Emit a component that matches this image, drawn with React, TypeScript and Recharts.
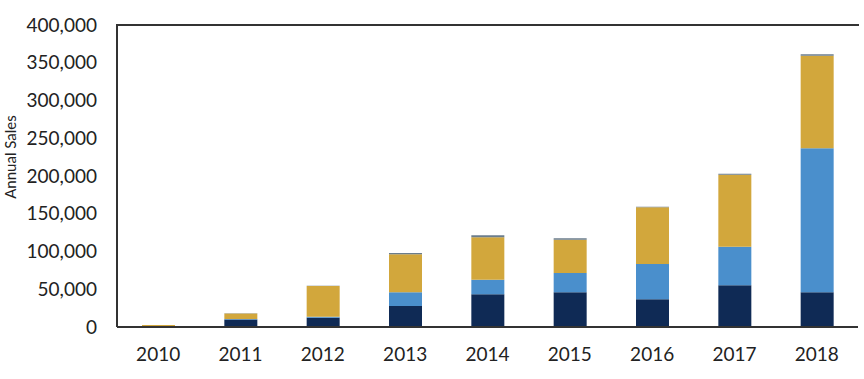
import React from "react";
import * as R from "recharts";
import { BarChart, Bar, XAxis, YAxis } from "recharts";

const years = ["2010", "2011", "2012", "2013", "2014", "2015", "2016", "2017", "2018"];
const navySales = [0, 10000, 12300, 27800, 43300, 46000, 36700, 55200, 46000];
const blueSales = [0, 500, 1300, 18200, 19400, 25500, 46700, 51200, 190700];
const goldSales = [2500, 7500, 40700, 50300, 56100, 44100, 75100, 95400, 122700];
const graySales = [300, 300, 500, 1700, 2600, 1800, 900, 1200, 1800];
const yTicks = [0, 50000, 100000, 150000, 200000, 250000, 300000, 350000, 400000];

const data = years.map((y, i) => ({
  year: y,
  navy: navySales[i],
  blue: blueSales[i],
  gold: goldSales[i],
  gray: graySales[i],
}));

const font = "Lato, 'Open Sans', sans-serif";
const fmt = (v: number) => v.toLocaleString("en-US");

const usePlotAreaHook: any = (R as any).usePlotArea;
const useOffsetHook: any = (R as any).useOffset;
const useWidthHook: any = (R as any).useChartWidth;

const TopFrame = () => {
  let x1: number | null = null;
  let x2: number | null = null;
  let y: number | null = null;
  if (usePlotAreaHook) {
    const pa = usePlotAreaHook();
    if (pa) {
      x1 = pa.x;
      x2 = pa.x + pa.width;
      y = pa.y;
    }
  } else if (useOffsetHook && useWidthHook) {
    const off = useOffsetHook();
    const w = useWidthHook();
    if (off && w) {
      x1 = off.left;
      x2 = w - off.right;
      y = off.top;
    }
  }
  if (x1 == null || x2 == null || y == null) return null;
  return <line x1={x1 - 1} x2={x2 + 1} y1={y} y2={y} stroke="#333" strokeWidth={2} />;
};

const YLabel = () => (
  <text
    x={10}
    y={157}
    transform="rotate(-90 10 157)"
    textAnchor="middle"
    dominantBaseline="central"
    fontSize={15}
    fill="#222"
    fontFamily={font}
  >
    Annual Sales
  </text>
);

export default function App() {
  return (
    <div style={{ position: "absolute", left: 0, top: 0, background: "#fff" }}>
      <BarChart
        width={864}
        height={379}
        data={data}
        margin={{ top: 25, right: 6, bottom: 22, left: 0 }}
        barSize={33}
      >
        <XAxis
          dataKey="year"
          height={30}
          tickLine={false}
          axisLine={{ stroke: "#333", strokeWidth: 2 }}
          tick={{ fontSize: 19, fill: "#222", fontFamily: font }}
          tickMargin={15}
        />
        <YAxis
          width={117}
          domain={[0, 400000]}
          ticks={yTicks}
          interval={0}
          tickFormatter={fmt}
          tickLine={false}
          tickSize={0}
          tickMargin={20}
          axisLine={{ stroke: "#333", strokeWidth: 2 }}
          tick={{ fontSize: 19, fill: "#222", fontFamily: font }}
          label={{ content: () => <YLabel /> }}
        />
        <YAxis
          yAxisId="right"
          orientation="right"
          width={0}
          tick={false}
          tickLine={false}
          domain={[0, 400000]}
          axisLine={{ stroke: "#333", strokeWidth: 2 }}
        />
        <Bar dataKey="navy" stackId="a" fill="#0f2a55" isAnimationActive={false} />
        <Bar dataKey="blue" stackId="a" fill="#4a8fcc" isAnimationActive={false} />
        <Bar dataKey="gold" stackId="a" fill="#d2a73c" isAnimationActive={false} />
        <Bar dataKey="gray" stackId="a" fill="#6b7d8c" isAnimationActive={false} />
        <TopFrame />
      </BarChart>
    </div>
  );
}
